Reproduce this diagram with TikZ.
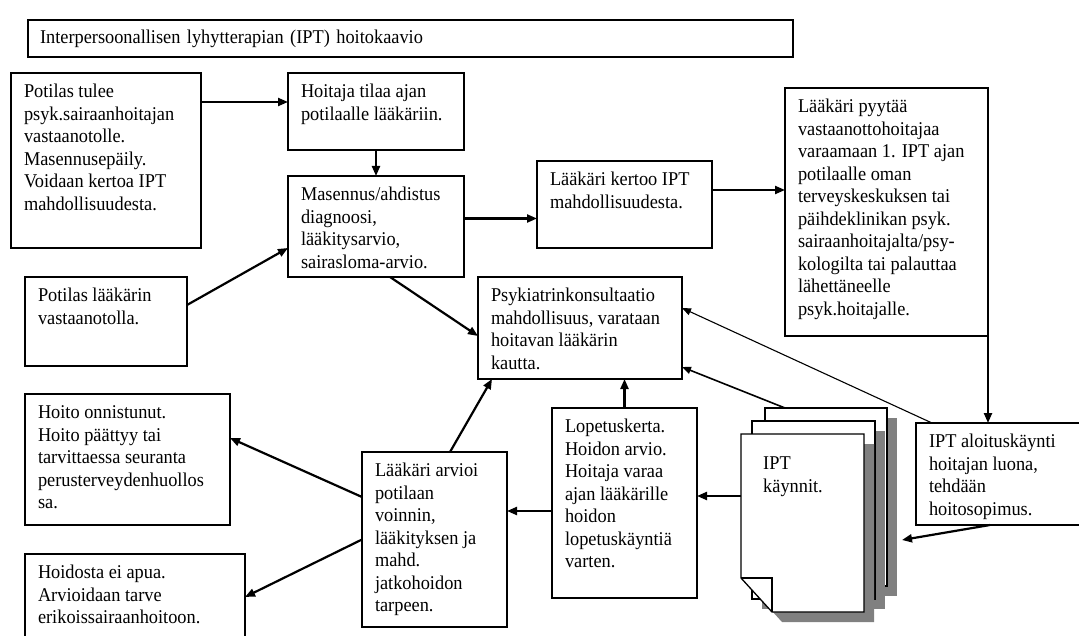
\documentclass[tikz,border=0pt]{standalone}
\usepackage{fontspec}
\setmainfont{Liberation Serif}[FakeStretch=0.94]
\usepackage{tikz}
\usetikzlibrary{arrows.meta,shadows}
\tikzset{
  laatikko/.style={draw, fill=white, line width=1.3pt, anchor=north west, outer sep=0pt,
    inner xsep=13pt, inner ysep=9pt},
  otsikko/.style={laatikko, minimum width=765pt, minimum height=37pt, text width=741pt,
    inner xsep=12pt, inner ysep=0pt, align=left},
  sivu/.style={draw, fill=white, line width=1.3pt, anchor=north west, outer sep=0pt,
    minimum width=123pt, minimum height=178pt, inner sep=0pt,
    drop shadow={shadow xshift=10pt, shadow yshift=-10pt, fill=black!50, opacity=1}},
  varjo/.style={fill=black!50},
  arr/.style={-{Triangle[length=10pt,width=8pt]}, line width=2.2pt},
  ohut/.style={-{Triangle[length=9pt,width=7pt]}, line width=1.1pt},
  keski/.style={-{Triangle[length=9pt,width=7pt]}, line width=1.6pt},
}
% laatikon sisalto: leveys, korkeus, rivit
\newcommand{\teksti}[3]{\parbox[c][\dimexpr#2pt-18pt\relax][t]{\dimexpr#1pt-26pt\relax}{%
  \begin{tabular}[t]{@{}l@{}}#3\end{tabular}}}

\begin{document}
\begin{tikzpicture}[x=1pt, y=-1pt, font=\fontsize{19.5}{22.5}\selectfont]
\useasboundingbox (0,0) rectangle (1079,636);
% otsikko
\node[otsikko] (kaavio) at (28,20) {Interpersoonallisen lyhytterapian (IPT) hoitokaavio};
% vasen ja keskiosa
\node[laatikko] (tulee) at (11,73) {\teksti{190}{175}{Potilas tulee\\psyk.sairaanhoitajan\\vastaanotolle.\\Masennusepäily.\\Voidaan kertoa IPT\\mahdollisuudesta.}};
\node[laatikko] (tilaa) at (288,73) {\teksti{176}{77}{Hoitaja tilaa ajan\\potilaalle lääkäriin.}};
\node[laatikko] (diagnoosi) at (288,176) {\teksti{176}{101}{Masennus/ahdistus\\diagnoosi,\\lääkitysarvio,\\sairasloma-arvio.}};
\node[laatikko] (vastaanotto) at (25,277) {\teksti{162}{89}{Potilas lääkärin\\vastaanotolla.}};
\node[laatikko] (kertoo) at (537,161) {\teksti{175}{87}{Lääkäri kertoo IPT\\mahdollisuudesta.}};
\node[laatikko] (pyytaa) at (785,88) {\teksti{203}{248}{Lääkäri pyytää\\vastaanottohoitajaa\\varaamaan 1. IPT ajan\\potilaalle oman\\terveyskeskuksen tai\\päihdeklinikan psyk.\\sairaanhoitajalta/psy-\\kologilta tai palauttaa\\lähettäneelle\\psyk.hoitajalle.}};
\node[laatikko] (konsultaatio) at (478,277) {\teksti{204}{102}{Psykiatrinkonsultaatio\\mahdollisuus, varataan\\hoitavan lääkärin\\kautta.}};
% alaosa
\node[laatikko] (onnistunut) at (25,394) {\teksti{205}{131}{Hoito onnistunut.\\Hoito päättyy tai\\tarvittaessa seuranta\\perusterveydenhuollos\\sa.}};
\node[laatikko] (eiapua) at (25,554) {\teksti{220}{100}{Hoidosta ei apua.\\Arvioidaan tarve\\erikoissairaanhoitoon.}};
\node[laatikko] (arvio) at (362,452) {\teksti{145}{175}{Lääkäri arvioi\\potilaan\\voinnin,\\lääkityksen ja\\mahd.\\jatkohoidon\\tarpeen.}};
\node[laatikko] (lopetus) at (552,408) {\teksti{145}{190}{Lopetuskerta.\\Hoidon arvio.\\Hoitaja varaa\\ajan lääkärille\\hoidon\\lopetuskäyntiä\\varten.}};
\node[laatikko] (aloitus) at (916,423) {\teksti{170}{102}{IPT aloituskäynti\\hoitajan luona,\\tehdään\\hoitosopimus.}};
% IPT-kaynnit: paperipino
\node[sivu, minimum width=122pt] (sivu3) at (765,408) {};
\node[sivu] (sivu2) at (752,421) {};
\coordinate (etu) at (741,434);
\fill[varjo] ([shift={(10,10)}]etu) -- ++(123,0) -- ++(0,178) -- ++(-92,0) -- ++(-31,-34) -- cycle;
\filldraw[fill=white, line width=1.3pt] (etu) -- ++(123,0) -- ++(0,178) -- ++(-92,0) -- ++(-31,-34) -- cycle;
\draw[line width=1.1pt] ([yshift=-144]etu) -- ++(31,0) -- ++(0,34);
\node[anchor=north west, inner sep=0pt, align=left] (kaynnit) at ([shift={(22,23)}]etu) {IPT\\käynnit.};
% nuolet
\draw[arr] ([yshift=9.5]tilaa.west -| tulee.east) -- ([yshift=9.5]tilaa.west);
\draw[arr] (tilaa.south) -- (diagnoosi.north);
\draw[arr] ([yshift=16.5]vastaanotto.east) -- ([yshift=-21.5]diagnoosi.west);
\draw[arr] ([yshift=8]diagnoosi.east) -- ([yshift=8]diagnoosi.east -| kertoo.west);
\draw[arr] ([yshift=14.5]kertoo.east) -- ([yshift=14.5]kertoo.east -| pyytaa.west);
\draw[arr] (pyytaa.south east) -- (pyytaa.south east |- aloitus.north);
\draw[arr] ([xshift=14]diagnoosi.south) -- ([yshift=-8]konsultaatio.west);
\draw[ohut] ([xshift=16]aloitus.north west) -- ([yshift=20]konsultaatio.east);
\draw[keski] ([xshift=20]sivu3.north west) -- ([yshift=-39]konsultaatio.east);
\draw[arr] (lopetus.north) -- (lopetus.north |- konsultaatio.south);
\draw[arr] ([xshift=15.5]arvio.north) -- ([xshift=14]konsultaatio.south west);
\draw[arr] ([xshift=74]aloitus.south west) -- ([shift={(15,43)}]sivu3.east);
\draw[arr] ([yshift=-62]etu) -- ([yshift=-62]etu -| lopetus.east);
\draw[arr] ([yshift=-8]lopetus.west) -- ([yshift=-8]lopetus.west -| arvio.east);
\draw[arr] ([yshift=42.5]arvio.west) -- ([yshift=21.5]onnistunut.east);
\draw[arr] (arvio.west) -- ([yshift=7]eiapua.east);
\end{tikzpicture}
\end{document}
